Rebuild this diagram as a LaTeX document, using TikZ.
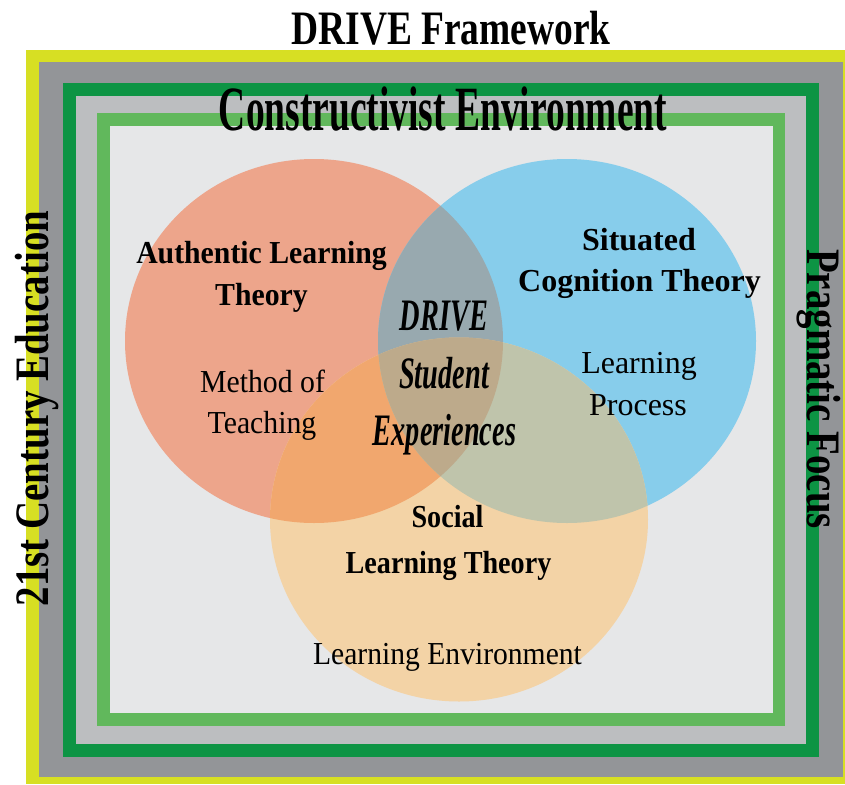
\documentclass[tikz,border=0pt]{standalone}
\usepackage{fontspec}
\setmainfont{Liberation Serif}
\usepackage{graphicx}

% horizontally condensed text
\newcommand{\condense}[2]{\scalebox{#1}[1]{#2}}

\definecolor{bandYellow}{HTML}{D7DF23}
\definecolor{bandGray}{HTML}{939598}
\definecolor{bandDarkGreen}{HTML}{0D9444}
\definecolor{bandLightGray}{HTML}{BCBEC0}
\definecolor{bandLightGreen}{HTML}{61B85C}
\definecolor{fieldGray}{HTML}{E6E7E8}

\definecolor{authFill}{HTML}{EDA58B}
\definecolor{sitFill}{HTML}{87CDEB}
\definecolor{socFill}{HTML}{F3D3A6}
\definecolor{authSit}{HTML}{98A9AF}
\definecolor{authSoc}{HTML}{F1A76E}
\definecolor{sitSoc}{HTML}{BFC4AB}
\definecolor{allThree}{HTML}{BDAA8B}

\tikzset{
  lbl/.style={anchor=base, inner sep=0pt, text=black},
  bigbold/.style={lbl, font=\fontsize{48}{56}\selectfont\bfseries},
  envbold/.style={lbl, font=\fontsize{63}{70}\selectfont\bfseries},
  theory/.style={lbl, font=\fontsize{32}{38}\selectfont\bfseries},
  aspect/.style={lbl, font=\fontsize{32}{38}\selectfont},
  core/.style={lbl, font=\fontsize{45}{52}\selectfont\bfseries\itshape},
  venn/.style={x radius=189, y radius=182},
}

\begin{document}
\begin{tikzpicture}[x=1pt, y=-1pt]
  \useasboundingbox (0,0) rectangle (845,784);
  \fill[white] (0,0) rectangle (845,784);

  % nested frame bands
  \fill[bandYellow]     (26,50)  rectangle (845,784);
  \fill[bandGray]       (39,62)  rectangle (843,777);
  \fill[bandDarkGreen]  (63,83)  rectangle (819,757);
  \fill[bandLightGray]  (76,96)  rectangle (806,744);
  \fill[bandLightGreen] (97,113) rectangle (785,726);
  \fill[fieldGray]      (110,126) rectangle (773,713);

  % circle centres
  \coordinate (cAuth) at (314,341);
  \coordinate (cSit)  at (567,341);
  \coordinate (cSoc)  at (459,519.5);

  % single-theory regions
  \fill[authFill] (cAuth) ellipse [venn];
  \fill[sitFill]  (cSit)  ellipse [venn];
  \fill[socFill]  (cSoc)  ellipse [venn];

  % pairwise overlaps
  \begin{scope}
    \clip (cAuth) ellipse [venn];
    \fill[authSit] (cSit) ellipse [venn];
    \fill[authSoc] (cSoc) ellipse [venn];
  \end{scope}
  \begin{scope}
    \clip (cSit) ellipse [venn];
    \fill[sitSoc] (cSoc) ellipse [venn];
  \end{scope}
  % centre overlap
  \begin{scope}
    \clip (cAuth) ellipse [venn];
    \clip (cSit) ellipse [venn];
    \fill[allThree] (cSoc) ellipse [venn];
  \end{scope}

  % frame titles
  \node[bigbold] (title) at (451,45) {\condense{0.78}{DRIVE Framework}};
  \node[envbold] (env) at (443,130) {\condense{0.595}{Constructivist Environment}};
  \node[bigbold, rotate=90] (cent) at (48,408.5) {\condense{0.81}{21st Century Education}};
  \node[bigbold, rotate=-90] (prag) at (807,389) {\condense{0.81}{Pragmatic Focus}};

  % authentic learning
  \node[theory] (auth1) at (261.5,263) {\condense{0.93}{Authentic Learning}};
  \node[theory] (auth2) at (261.5,305) {\condense{0.93}{Theory}};
  \node[aspect] (meth1) at (262.5,392) {\condense{0.93}{Method of}};
  \node[aspect] (meth2) at (262,433) {\condense{0.93}{Teaching}};

  % situated cognition
  \node[theory] (sit1) at (639,250) {Situated};
  \node[theory] (sit2) at (639.5,291) {Cognition Theory};
  \node[aspect] (proc1) at (639,373) {Learning};
  \node[aspect] (proc2) at (638,415) {Process};

  % social learning
  \node[theory] (soc1) at (447.5,527) {\condense{0.88}{Social}};
  \node[theory] (soc2) at (448.5,573) {\condense{0.88}{Learning Theory}};
  \node[aspect] (envr) at (447.5,664) {\condense{0.925}{Learning Environment}};

  % centre
  \node[core] (core1) at (444,330) {\condense{0.63}{DRIVE}};
  \node[core] (core2) at (444,388) {\condense{0.63}{Student}};
  \node[core] (core3) at (444.5,445) {\condense{0.63}{Experiences}};
\end{tikzpicture}
\end{document}
